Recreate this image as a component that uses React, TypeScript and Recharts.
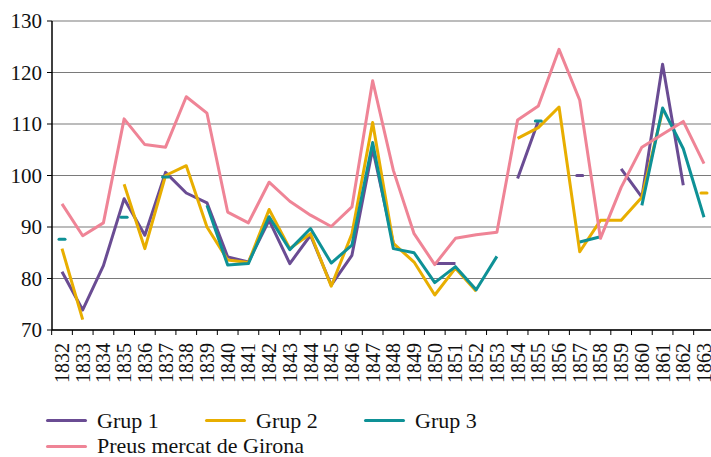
import React from "react";
import { LineChart, Line, XAxis, YAxis, CartesianGrid, Legend } from "recharts";

const years = [
  "1832", "1833", "1834", "1835", "1836", "1837", "1838", "1839", "1840", "1841", "1842",
  "1843", "1844", "1845", "1846", "1847", "1848", "1849", "1850", "1851", "1852", "1853",
  "1854", "1855", "1856", "1857", "1858", "1859", "1860", "1861", "1862", "1863",
];

const grup1 = [
  81.3, 73.9, 82.5, 95.5, 88.4, 100.6, 96.6, 94.7, 84.2, 83.2, 91.3,
  82.9, 88.4, 78.7, 84.5, 105.2, 86.8, null, 82.9, 82.9, null, null,
  99.4, 110.6, null, 100, null, 101.3, 95.8, 121.6, 98.1, null,
];

const grup2 = [
  85.8, 72, null, 98.3, 85.8, 100, 101.9, 90, 83.6, 83.1, 93.4,
  85.8, 88.7, 78.5, 88.7, 110.3, 86.8, 83.2, 76.8, 82, 77.5, null,
  107.2, 109.3, 113.3, 85.2, 91.3, 91.3, 95.8, 112.6, null, 96.6,
];

const grup3 = [
  87.6, null, null, 91.9, null, 99.7, null, 94.2, 82.6, 82.9, 92,
  85.6, 89.7, 83, 86.5, 106.4, 85.8, 85, 79.2, 82.3, 77.8, 84.3,
  null, 110.6, null, 87.1, 88.1, null, 94.2, 113.1, 105.2, 91.9,
];

const girona = [
  94.5, 88.3, 90.8, 111, 106, 105.5, 115.3, 112.1, 92.9, 90.8, 98.7,
  95, 92.3, 90.1, 93.9, 118.4, 101, 88.7, 82.7, 87.8, 88.5, 89,
  110.8, 113.5, 124.5, 114.6, 87.8, 97.7, 105.5, 108, 110.5, 102.3,
];

const yTicks = [70, 80, 90, 100, 110, 120, 130];

const series = [
  { key: "grup1", name: "Grup 1", color: "#6a4c93", values: grup1 },
  { key: "grup2", name: "Grup 2", color: "#e8ae00", values: grup2 },
  { key: "grup3", name: "Grup 3", color: "#0e9196", values: grup3 },
  { key: "girona", name: "Preus mercat de Girona", color: "#ef8496", values: girona },
];

const data = years.map((year, i) => ({
  year,
  grup1: grup1[i],
  grup2: grup2[i],
  grup3: grup3[i],
  girona: girona[i],
}));

const FONT = "'Liberation Serif', 'Times New Roman', serif";

// lone values (no neighbour on either side) show as a short dash, like Excel does
const loneDash = (vals: (number | null)[], color: string) => (props: any) => {
  const { cx, cy, index } = props;
  const key = `dot-${index}`;
  if (vals[index] == null || cx == null || cy == null) return <g key={key} />;
  const prev = index > 0 ? vals[index - 1] : null;
  const next = index < vals.length - 1 ? vals[index + 1] : null;
  if (prev != null || next != null) return <g key={key} />;
  return (
    <line key={key} x1={cx - 3} x2={cx + 3} y1={cy} y2={cy}
      stroke={color} strokeWidth={3} strokeLinecap="round" />
  );
};

// tick marks sit between the years, labels on the years
function YearTick(props: any) {
  const { x, y, payload, index, visibleTicksCount, width } = props;
  const half = width && visibleTicksCount ? width / visibleTicksCount / 2 : 10.35;
  const axisY = y - 13;
  return (
    <g>
      <line x1={x - half} x2={x - half} y1={axisY} y2={axisY + 5} stroke="#000" strokeWidth={1} />
      {index === visibleTicksCount - 1 && (
        <line x1={x + half} x2={x + half} y1={axisY} y2={axisY + 5} stroke="#000" strokeWidth={1} />
      )}
      <text x={x} y={y} transform={`rotate(-90 ${x} ${y})`} textAnchor="end"
        dominantBaseline="central" fontSize={20} fontFamily={FONT} fill="#111">
        {payload.value}
      </text>
    </g>
  );
}

function LegendBox() {
  const rows = [series.slice(0, 3), series.slice(3)];
  return (
    <div style={{ paddingTop: 12, paddingLeft: 46, fontFamily: FONT, fontSize: 22, lineHeight: 1, color: "#111" }}>
      {rows.map((row, r) => (
        <div key={r} style={{ display: "flex", height: r === 0 ? 27 : 24 }}>
          {row.map((s) => (
            <div key={s.key} style={{ display: "flex", alignItems: "center", minWidth: 159, whiteSpace: "nowrap" }}>
              <span style={{ display: "inline-block", flexShrink: 0, width: 41, height: 3, background: s.color, marginRight: 10, borderRadius: 2 }} />
              <span>{s.name}</span>
            </div>
          ))}
        </div>
      ))}
    </div>
  );
}

export default function App() {
  return (
    <div style={{ position: "absolute", left: 0, top: 0, width: 711, height: 457, overflow: "hidden", background: "#fff" }}>
      <LineChart width={716} height={457} data={data} margin={{ top: 21, right: 2, left: 0, bottom: 0 }}>
        <CartesianGrid vertical={false} stroke="#7a7a7a" strokeWidth={1.2} />
        <XAxis
          dataKey="year"
          interval={0}
          padding={{ left: 10, right: 10 }}
          tickLine={false}
          tickSize={5}
          tickMargin={8}
          axisLine={{ stroke: "#000", strokeWidth: 1.5 }}
          tick={<YearTick />}
          height={65}
        />
        <YAxis
          domain={[70, 130]}
          ticks={yTicks}
          width={52}
          tickSize={5}
          tickMargin={5}
          axisLine={{ stroke: "#000", strokeWidth: 1.5 }}
          tickLine={{ stroke: "#000" }}
          tick={{ fontSize: 21, fill: "#111", fontFamily: FONT }}
        />
        <Legend verticalAlign="bottom" height={62} wrapperStyle={{ left: 0, width: 711 }} content={() => <LegendBox />} />
        {series.map((s) => (
          <Line
            key={s.key}
            type="linear"
            dataKey={s.key}
            name={s.name}
            stroke={s.color}
            strokeWidth={3}
            strokeLinejoin="round"
            dot={loneDash(s.values, s.color)}
            activeDot={false}
            isAnimationActive={false}
          />
        ))}
      </LineChart>
    </div>
  );
}
